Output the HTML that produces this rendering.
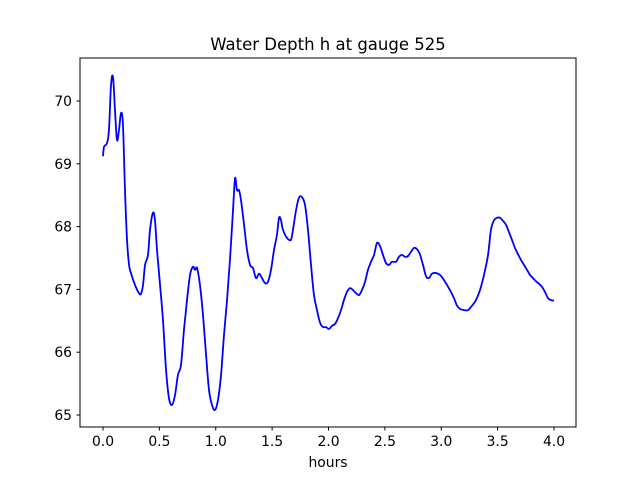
<!DOCTYPE html>
<html><head><meta charset="utf-8"><style>
html,body{margin:0;padding:0;background:#fff;}
svg{display:block;font-family:"DejaVu Sans","Liberation Sans",sans-serif;}
</style></head><body>
<svg id="chart" width="640" height="480" viewBox="0 0 640 480">
<rect width="640" height="480" fill="#fff"/>
<text x="328" y="50" text-anchor="middle" font-size="16.5" fill="#000">Water Depth h at gauge 525</text>
<g id="xticks"></g>
<g id="yticks"></g>
<path id="series" fill="none" stroke="#0000ff" stroke-width="1.8" stroke-linejoin="round"/>
<rect x="80" y="58" width="496" height="369" fill="none" stroke="#000" stroke-width="1"/>
<text x="328" y="467" text-anchor="middle" font-size="13.9" fill="#000">hours</text>
</svg>
<script>
const times=[0,.009,.035,.053,.071,.089,.106,.124,.142,.160,.177,.195,.213,.231,.248,.284,.319,.337,.355,.373,.399,.417,.443,.461,.479,.506,.532,.559,.585,.612,.639,.665,.692,.718,.745,.772,.798,.816,.834,.860,.887,.914,.940,.967,.993,1.020,1.047,1.073,1.100,1.126,1.153,1.171,1.188,1.206,1.224,1.251,1.277,1.304,1.330,1.357,1.384,1.410,1.437,1.463,1.490,1.517,1.543,1.561,1.579,1.596,1.632,1.667,1.685,1.712,1.738,1.765,1.792,1.818,1.845,1.871,1.898,1.925,1.951,1.978,2.004,2.031,2.058,2.084,2.111,2.137,2.164,2.191,2.217,2.244,2.271,2.297,2.324,2.350,2.377,2.404,2.430,2.457,2.483,2.510,2.537,2.563,2.599,2.625,2.652,2.678,2.705,2.732,2.758,2.785,2.812,2.838,2.865,2.891,2.918,2.953,2.989,3.024,3.051,3.086,3.113,3.140,3.166,3.202,3.237,3.273,3.308,3.344,3.379,3.415,3.441,3.468,3.494,3.521,3.548,3.574,3.601,3.627,3.654,3.681,3.707,3.734,3.761,3.787,3.814,3.840,3.867,3.894,3.920,3.947,3.973,4.0];
const depths=[69.12,69.27,69.33,69.54,70.25,70.38,69.86,69.38,69.54,69.81,69.62,68.58,67.79,67.39,67.26,67.07,66.94,66.93,67.07,67.39,67.55,67.95,68.22,68.10,67.63,67.07,66.51,65.72,65.27,65.16,65.32,65.64,65.80,66.35,66.83,67.23,67.36,67.31,67.34,67.07,66.59,65.96,65.40,65.16,65.08,65.24,65.64,66.27,66.83,67.47,68.26,68.77,68.58,68.58,68.42,68.03,67.63,67.39,67.34,67.18,67.25,67.18,67.10,67.12,67.31,67.63,67.87,68.14,68.10,67.95,67.82,67.79,67.95,68.26,68.46,68.47,68.34,67.95,67.39,66.91,66.67,66.47,66.40,66.40,66.37,66.42,66.45,66.54,66.67,66.83,66.96,67.02,66.99,66.94,66.91,66.99,67.12,67.31,67.44,67.55,67.74,67.69,67.55,67.42,67.39,67.44,67.44,67.52,67.55,67.52,67.53,67.60,67.66,67.64,67.55,67.39,67.21,67.18,67.25,67.26,67.23,67.15,67.07,66.96,66.86,66.74,66.69,66.67,66.67,66.74,66.83,66.99,67.23,67.55,67.95,68.10,68.14,68.14,68.09,68.03,67.91,67.79,67.66,67.56,67.47,67.39,67.31,67.23,67.18,67.13,67.09,67.04,66.96,66.86,66.83,66.82];
const xTickLabels=["0.0","0.5","1.0","1.5","2.0","2.5","3.0","3.5","4.0"];
const yTickLabels=["65","66","67","68","69","70"];

const NS="http://www.w3.org/2000/svg";
function xs(t){return 103+t*112.75;}
function ys(h){return 415-(h-65)*62.8;}

const xg=document.getElementById('xticks');
xTickLabels.forEach(l=>{
  const x=xs(parseFloat(l));
  const ln=document.createElementNS(NS,'line');
  ln.setAttribute('x1',x);ln.setAttribute('x2',x);ln.setAttribute('y1',427);ln.setAttribute('y2',430.5);
  ln.setAttribute('stroke','#000');
  
  
  xg.appendChild(ln);
  const tx=document.createElementNS(NS,'text');
  tx.setAttribute('x',x);tx.setAttribute('y',446);tx.setAttribute('text-anchor','middle');tx.setAttribute('font-size','13.9');
  tx.textContent=l;
  
  
  xg.appendChild(tx);
});
const yg=document.getElementById('yticks');
yTickLabels.forEach(l=>{
  const y=ys(parseFloat(l));
  const ln=document.createElementNS(NS,'line');
  ln.setAttribute('x1',76.5);ln.setAttribute('x2',80);ln.setAttribute('y1',y);ln.setAttribute('y2',y);
  ln.setAttribute('stroke','#000');
  
  
  yg.appendChild(ln);
  const tx=document.createElementNS(NS,'text');
  tx.setAttribute('x',72);tx.setAttribute('y',y+5);tx.setAttribute('text-anchor','end');tx.setAttribute('font-size','13.9');
  tx.textContent=l;
  
  
  yg.appendChild(tx);
});

const pts=times.map((t,i)=>[xs(t),ys(depths[i])]);
let d='M'+pts[0][0].toFixed(2)+','+pts[0][1].toFixed(2);
for(let i=0;i<pts.length-1;i++){
  const p0=pts[Math.max(0,i-1)],p1=pts[i],p2=pts[i+1],p3=pts[Math.min(pts.length-1,i+2)];
  const c1x=p1[0]+(p2[0]-p0[0])/6,c1y=p1[1]+(p2[1]-p0[1])/6;
  const c2x=p2[0]-(p3[0]-p1[0])/6,c2y=p2[1]-(p3[1]-p1[1])/6;
  d+=' C'+c1x.toFixed(2)+','+c1y.toFixed(2)+' '+c2x.toFixed(2)+','+c2y.toFixed(2)+' '+p2[0].toFixed(2)+','+p2[1].toFixed(2);
}
document.getElementById('series').setAttribute('d',d);
</script>
</body></html>
